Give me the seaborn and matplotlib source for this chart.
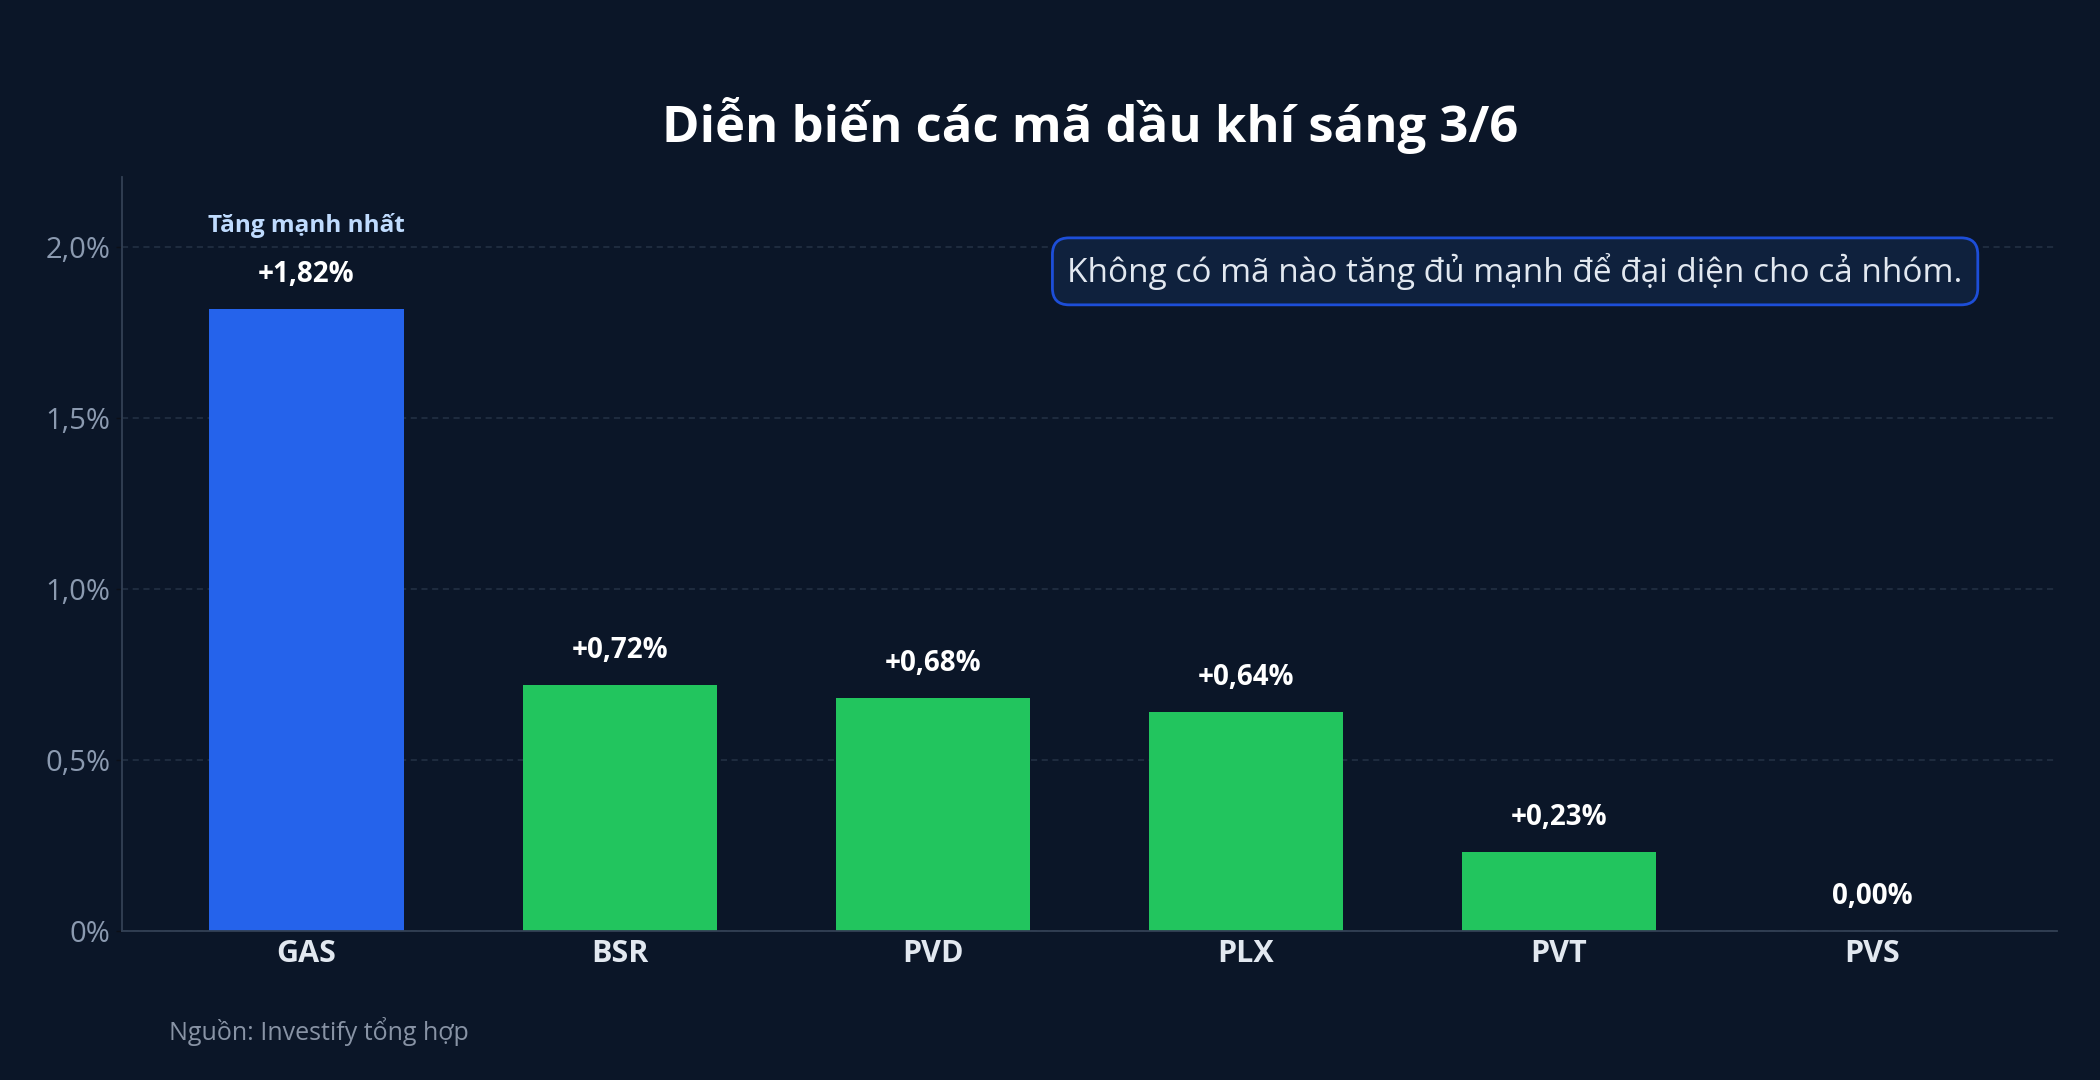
import pandas as pd
import matplotlib
matplotlib.use("Agg")
import matplotlib.pyplot as plt
import seaborn as sns

# data
tickers = ["GAS", "BSR", "PVD", "PLX", "PVT", "PVS"]
changes = [1.82, 0.72, 0.68, 0.64, 0.23, 0.00]
labels = ["+1,82%", "+0,72%", "+0,68%", "+0,64%", "+0,23%", "0,00%"]
bar_colors = ["#2563eb", "#22c55e", "#22c55e", "#22c55e", "#22c55e", "#22c55e"]
ytick_vals = [0, 0.5, 1.0, 1.5, 2.0]
ytick_labels = ["0%", "0,5%", "1,0%", "1,5%", "2,0%"]

df = pd.DataFrame({"ticker": tickers, "change": changes})

BG = "#0b1628"
sns.set_theme(style="dark")
plt.rcParams["font.family"] = ["Open Sans", "Noto Sans", "DejaVu Sans"]

fig = plt.figure(figsize=(21, 10.8), dpi=100, facecolor=BG)
ax = fig.add_axes([0.058, 0.138, 0.9215, 0.698])
ax.set_facecolor(BG)

sns.barplot(data=df, x="ticker", y="change", hue="ticker", palette=bar_colors,
            legend=False, width=0.62, saturation=1, linewidth=0, ax=ax)

ax.set_xlim(-0.59, 5.59)
ax.set_ylim(0, 2.205)
ax.set_yticks(ytick_vals)
ax.set_yticklabels(ytick_labels)
ax.set_xlabel("")
ax.set_ylabel("")

ax.grid(axis="y", color="#243246", linestyle=(0, (4, 3)), linewidth=1.1)
ax.grid(axis="x", visible=False)
ax.set_axisbelow(True)

for s in ["top", "right"]:
    ax.spines[s].set_visible(False)
for s in ["left", "bottom"]:
    ax.spines[s].set_visible(True)
    ax.spines[s].set_color("#334155")
    ax.spines[s].set_linewidth(1.3)

ax.tick_params(axis="y", colors="#0b0f18", labelcolor="#8b9ab0", labelsize=21,
               length=4, width=1, left=True, pad=4)
ax.tick_params(axis="x", length=0, labelcolor="#e2e8f0", labelsize=22, pad=6)
for t in ax.get_xticklabels():
    t.set_fontweight("bold")

# value labels
for i, (v, lab) in enumerate(zip(changes, labels)):
    ax.annotate(lab, (i, v), xytext=(0, 25), textcoords="offset points",
                ha="center", va="center", color="white", fontsize=20, fontweight="bold")

ax.annotate("Tăng mạnh nhất", (0, changes[0]), xytext=(0, 60), textcoords="offset points",
            ha="center", va="center", color="#bfdbfe", fontsize=17.5, fontweight="bold")

# note box
ax.text(0.72, 0.875, "Không có mã nào tăng đủ mạnh để đại diện cho cả nhóm.",
        transform=ax.transAxes, ha="center", va="center", color="#e2e8f0", fontsize=24,
        bbox=dict(boxstyle="round,pad=0.45,rounding_size=0.5", facecolor="#0f213d",
                  edgecolor="#1d4ed8", linewidth=2))

fig.text(0.519, 0.884, "Diễn biến các mã dầu khí sáng 3/6", ha="center", va="center",
         color="white", fontsize=36.5, fontweight="bold")
fig.text(0.0805, 0.045, "Nguồn: Investify tổng hợp", ha="left", va="center",
         color="#8893a5", fontsize=18)

fig.savefig("out.png", dpi=100, facecolor=BG)
